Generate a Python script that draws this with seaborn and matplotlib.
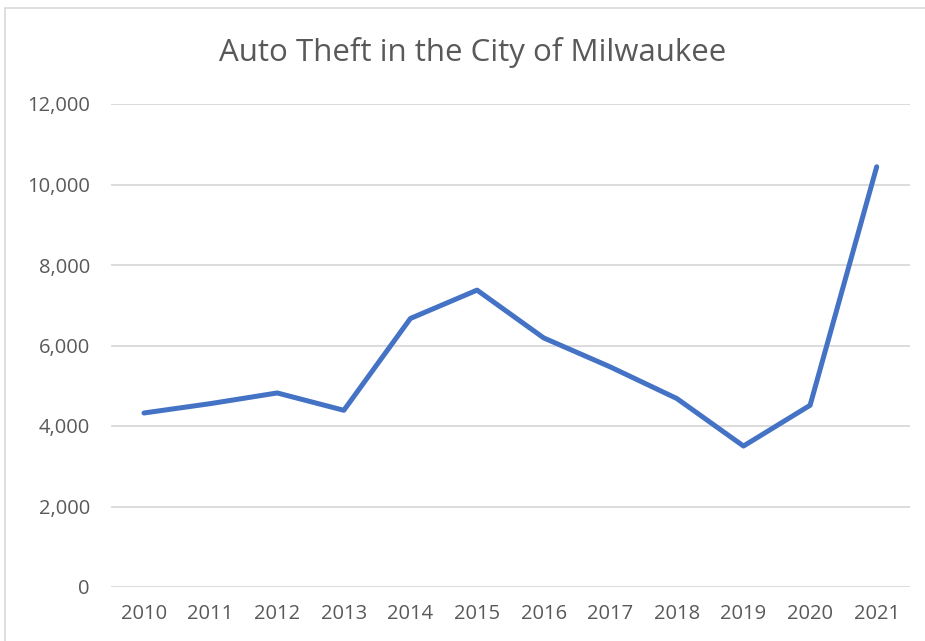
import matplotlib
matplotlib.use('Agg')
import matplotlib.pyplot as plt
import matplotlib.ticker as mticker
from matplotlib.patches import Rectangle
import pandas as pd
import seaborn as sns

# Auto thefts per year
YEARS = ['2010', '2011', '2012', '2013', '2014', '2015',
         '2016', '2017', '2018', '2019', '2020', '2021']
THEFTS = [4323, 4557, 4821, 4390, 6672, 7376,
          6189, 5468, 4682, 3502, 4515, 10440]
Y_TICKS = [0, 2000, 4000, 6000, 8000, 10000, 12000]

TITLE = 'Auto Theft in the City of Milwaukee'
LINE_COLOR = '#4472C4'
TEXT_COLOR = '#595959'
GRID_COLOR = '#D9D9D9'


def main():
    sns.set_theme(style='white')
    plt.rcParams['font.family'] = ['Open Sans', 'DejaVu Sans']

    df = pd.DataFrame({'Year': YEARS, 'Thefts': THEFTS})

    fig = plt.figure(figsize=(9.25, 6.41), dpi=100)
    W, H = 925, 641
    ax = fig.add_axes([110.7 / W, (H - 587) / H, (910 - 110.7) / W, (587 - 104) / H])

    sns.lineplot(data=df, x='Year', y='Thefts', ax=ax, color=LINE_COLOR,
                 linewidth=3.6, sort=False, solid_capstyle='round', zorder=3)

    ax.set_xlim(-0.5, len(YEARS) - 0.5)
    ax.set_ylim(0, 12000)
    ax.set_yticks(Y_TICKS)
    ax.yaxis.set_major_formatter(mticker.FuncFormatter(lambda v, p: f'{int(v):,}'))
    ax.grid(axis='y', color=GRID_COLOR, linewidth=1.3, zorder=0)
    ax.grid(axis='x', visible=False)
    for s in ax.spines.values():
        s.set_visible(False)
    ax.tick_params(axis='both', length=0, labelsize=14.5, labelcolor=TEXT_COLOR)
    ax.tick_params(axis='y', pad=15)
    ax.tick_params(axis='x', pad=12)
    ax.set_xlabel('')
    ax.set_ylabel('')

    fig.text(473 / W, (H - 52) / H, TITLE, ha='center', va='center',
             fontsize=22.5, color=TEXT_COLOR)

    fig.patches.append(Rectangle((5 / W, -0.05), 1.0, (H - 8) / H + 0.05,
                                 transform=fig.transFigure, fill=False,
                                 edgecolor='#D9D9D9', linewidth=1.2))

    fig.savefig('out.png', dpi=100)


if __name__ == '__main__':
    main()
